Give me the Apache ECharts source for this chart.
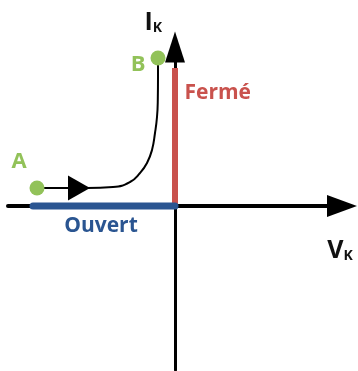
<!DOCTYPE html>
<html>
<head>
<meta charset="utf-8">
<script src="https://cdn.jsdelivr.net/npm/echarts@6/dist/echarts.min.js"></script>
<style>
  html, body { margin: 0; padding: 0; background: #fff; }
  #container { width: 358px; height: 371px; }
</style>
</head>
<body>
<div id="container"></div>
<script>
// trajectoire A -> B (commutation)
var curveX = [-138, -88, -62, -45, -35, -28, -23, -20, -18, -17.2, -17, -17];
var curveY = [18, 18, 19, 24, 33, 43, 56, 73, 89, 106, 129, 148];

// etats de l'interrupteur
var fermeX = [0, 0];
var fermeY = [0, 138];
var ouvertX = [-142, 0];
var ouvertY = [0, 0];

// points A et B
var pointNames = ['A', 'B'];
var pointX = [-138, -17];
var pointY = [18, 148];

// fleche de sens sur la trajectoire
var arrowX = [-96];
var arrowY = [18];

// etiquettes
var labelNames = ['Fermé', 'Ouvert'];
var labelX = [0, -74];
var labelY = [113, -20];

var green = '#92c259';
var red = '#c9524d';
var blue = '#2a5591';
var font = '"Open Sans", "Noto Sans", sans-serif';

var dom = document.getElementById("container");
var myChart = echarts.init(dom, null, { renderer: 'canvas' });

function pairs(xs, ys) {
    var out = [];
    for (var i = 0; i < xs.length; i++) {
        out.push([xs[i], ys[i]]);
    }
    return out;
}

var option = {
    animation: false,
    backgroundColor: '#fff',
    grid: {
        left: 8,
        right: 16,
        top: 47,
        bottom: 1,
        containLabel: false
    },
    xAxis: {
        type: 'value',
        min: -167,
        max: 167,
        name: '{v|V}{k|K}',
        nameLocation: 'end',
        nameGap: -2,
        nameTextStyle: {
            align: 'center',
            verticalAlign: 'top',
            padding: [32, 0, 0, 0],
            rich: {
                v: { fontSize: 25, fontWeight: 'bold', color: '#111', fontFamily: font },
                k: { fontSize: 14, fontWeight: 'bold', color: '#111', fontFamily: font, verticalAlign: 'bottom', padding: [8, 0, 0, 0] }
            }
        },
        axisLine: {
            onZero: true,
            symbol: ['none', 'triangle'],
            symbolSize: [22, 30],
            lineStyle: { color: '#000', width: 4 }
        },
        axisTick: { show: false },
        axisLabel: { show: false },
        splitLine: { show: false }
    },
    yAxis: {
        type: 'value',
        min: -164,
        max: 159,
        name: '{i|I}{k|K}',
        nameLocation: 'end',
        nameGap: 12,
        nameTextStyle: {
            align: 'right',
            padding: [0, 13, 0, 0],
            rich: {
                i: { fontSize: 25, fontWeight: 'bold', color: '#111', fontFamily: font },
                k: { fontSize: 14, fontWeight: 'bold', color: '#111', fontFamily: font, verticalAlign: 'bottom', padding: [8, 0, 0, 0] }
            }
        },
        axisLine: {
            onZero: true,
            symbol: ['none', 'triangle'],
            symbolSize: [20, 31],
            lineStyle: { color: '#000', width: 3 }
        },
        axisTick: { show: false },
        axisLabel: { show: false },
        splitLine: { show: false }
    },
    series: [
        {
            name: 'trajectoire',
            type: 'line',
            data: pairs(curveX, curveY),
            smooth: 0.5,
            symbol: 'none',
            lineStyle: { color: '#000', width: 2 },
            z: 3
        },
        {
            name: 'Fermé',
            type: 'line',
            data: pairs(fermeX, fermeY),
            symbol: 'none',
            lineStyle: { color: red, width: 6 },
            z: 4
        },
        {
            name: 'Ouvert',
            type: 'line',
            data: pairs(ouvertX, ouvertY),
            symbol: 'none',
            lineStyle: { color: blue, width: 7, cap: 'round' },
            z: 4
        },
        {
            name: 'sens',
            type: 'scatter',
            data: pairs(arrowX, arrowY),
            symbol: 'triangle',
            symbolSize: [25, 22],
            symbolRotate: -90,
            itemStyle: { color: '#000', opacity: 1 },
            z: 5
        },
        {
            name: 'points',
            type: 'scatter',
            data: [
                { name: pointNames[0], value: [pointX[0], pointY[0]],
                  label: { position: 'top', distance: 2, offset: [-18, -6] } },
                { name: pointNames[1], value: [pointX[1], pointY[1]],
                  label: { position: 'left', distance: 5, offset: [0, 7] } }
            ],
            symbol: 'circle',
            symbolSize: 15,
            itemStyle: { color: green, opacity: 1 },
            label: {
                show: true,
                formatter: '{b}',
                color: green,
                fontSize: 22,
                fontWeight: 'bold',
                fontFamily: font
            },
            z: 6
        },
        {
            name: 'etiquettes',
            type: 'scatter',
            data: [
                { name: labelNames[0], value: [labelX[0], labelY[0]],
                  label: { position: 'right', distance: 9, color: red } },
                { name: labelNames[1], value: [labelX[1], labelY[1]],
                  label: { position: 'inside', color: blue } }
            ],
            symbolSize: 1,
            itemStyle: { color: 'rgba(0,0,0,0)', opacity: 1 },
            label: {
                show: true,
                formatter: '{b}',
                fontSize: 21,
                fontWeight: 'bold',
                fontFamily: font,
                opacity: 1
            },
            z: 6
        }
    ]
};

myChart.setOption(option, true);
</script>
</body>
</html>
